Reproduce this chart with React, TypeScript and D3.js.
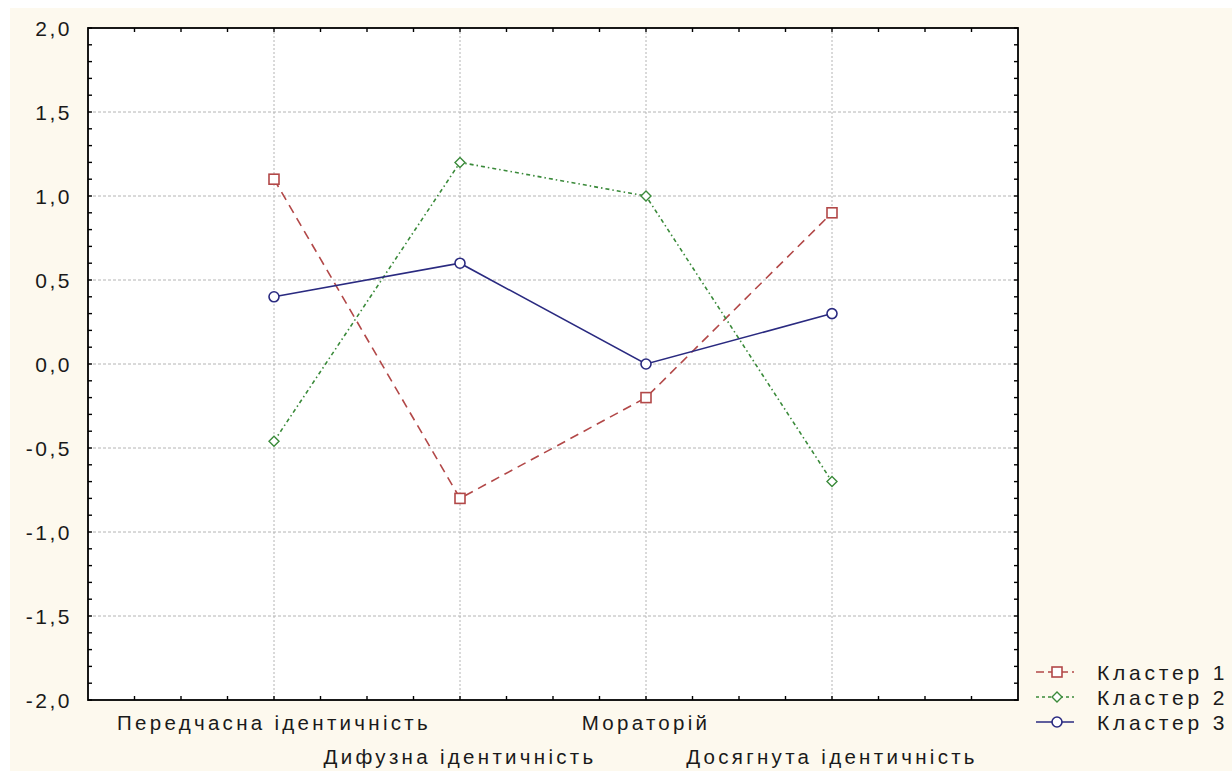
import React from "react";
import * as d3 from "d3";

const categories = ["Передчасна ідентичність", "Дифузна ідентичність", "Мораторій", "Досягнута ідентичність"];
const labelRow = [0, 1, 0, 1];
const cluster1 = [1.1, -0.8, -0.2, 0.9];
const cluster2 = [-0.46, 1.2, 1.0, -0.7];
const cluster3 = [0.4, 0.6, 0.0, 0.3];
const seriesNames = ["Кластер 1", "Кластер 2", "Кластер 3"];
const yTicks = [-2, -1.5, -1, -0.5, 0, 0.5, 1, 1.5, 2];

const W = 1232, H = 771;
const L = 88, R = 1018, T = 28, B = 700;
const FONT = "'Liberation Sans', Arial, sans-serif";

const styles = [
  { color: "#b24848", dash: "9,6", marker: "square" },
  { color: "#3a8a3a", dash: "4,3,1.5,3", marker: "diamond" },
  { color: "#2a2a80", dash: "", marker: "circle" },
];

function Marker({ type, x, y, color }: { type: string; x: number; y: number; color: string }) {
  if (type === "square") return <rect x={x - 5} y={y - 5} width={10} height={10} fill="#fff" stroke={color} strokeWidth={1.6} />;
  if (type === "diamond") return <path d={`M${x},${y - 5}L${x + 5},${y}L${x},${y + 5}L${x - 5},${y}Z`} fill="#fff" stroke={color} strokeWidth={1.4} />;
  return <circle cx={x} cy={y} r={5} fill="#fff" stroke={color} strokeWidth={1.6} />;
}

export default function App() {
  const x = d3.scaleLinear().domain([0, 5]).range([L, R]);
  const y = d3.scaleLinear().domain([-2, 2]).range([B, T]);
  const data = [cluster1, cluster2, cluster3];
  const line = d3.line<number>().x((_, i) => x(i + 1)).y((d) => y(d));
  const xMinor = d3.range(1, 20).map((i) => i * 0.25);
  const yMinor = d3.range(-20, 21).map((i) => i / 10);
  const tl = 4;
  const fmt = (v: number) => d3.format(".1f")(v).replace(".", ",").replace("\u2212", "-");
  return (
    <svg width={W} height={H} style={{ position: "absolute", left: 0, top: 0, background: "#fff" }} fontFamily={FONT}>
      <rect x={10} y={8} width={W - 10} height={H - 8} fill="#fdf9ee" />
      <rect x={L} y={T} width={R - L} height={B - T} fill="#fff" />
      {yTicks.filter((v) => v > -2 && v < 2).map((v) => (
        <line key={"gy" + v} x1={L} x2={R} y1={y(v)} y2={y(v)} stroke="#b4b4b4" strokeWidth={1} strokeDasharray="3,2" />
      ))}
      {categories.map((c, i) => (
        <line key={"gx" + i} x1={x(i + 1)} x2={x(i + 1)} y1={T} y2={B} stroke="#b4b4b4" strokeWidth={1} strokeDasharray="2,2" />
      ))}
      {yMinor.map((v, i) => (
        <g key={"ym" + i}>
          <line x1={L} x2={L + tl} y1={y(v)} y2={y(v)} stroke="#000" strokeWidth={1.4} />
          <line x1={R} x2={R - tl} y1={y(v)} y2={y(v)} stroke="#000" strokeWidth={1.4} />
        </g>
      ))}
      {xMinor.map((v, i) => (
        <g key={"xm" + i}>
          <line x1={x(v)} x2={x(v)} y1={B} y2={B - tl} stroke="#000" strokeWidth={1.4} />
          <line x1={x(v)} x2={x(v)} y1={T} y2={T + tl} stroke="#000" strokeWidth={1.4} />
        </g>
      ))}
      <rect x={L} y={T} width={R - L} height={B - T} fill="none" stroke="#000" strokeWidth={1.8} />
      {yTicks.map((v) => (
        <text key={"yl" + v} x={L - 16} y={y(v)} dy="0.36em" textAnchor="end" fontSize={21} letterSpacing={2.5} fill="#1a1a1a">
          {fmt(v)}
        </text>
      ))}
      {categories.map((c, i) => (
        <text key={"xl" + i} x={x(i + 1)} y={labelRow[i] ? 757 : 723} dy="0.36em" textAnchor="middle" fontSize={20.5} letterSpacing={3.3} fill="#1a1a1a">
          {c}
        </text>
      ))}
      {data.map((s, k) => (
        <g key={"s" + k}>
          <path d={line(s) || ""} fill="none" stroke={styles[k].color} strokeWidth={1.6} strokeDasharray={styles[k].dash} />
          {s.map((v, i) => (
            <Marker key={i} type={styles[k].marker} x={x(i + 1)} y={y(v)} color={styles[k].color} />
          ))}
        </g>
      ))}
      {seriesNames.map((n, k) => {
        const ly = 672 + k * 25;
        return (
          <g key={"lg" + k}>
            <line x1={1036} x2={1074} y1={ly} y2={ly} stroke={styles[k].color} strokeWidth={1.6} strokeDasharray={styles[k].dash === "" ? "" : k === 0 ? "8,4" : "3,3"} />
            <Marker type={styles[k].marker} x={1057} y={ly} color={styles[k].color} />
            <text x={1097} y={ly} dy="0.36em" fontSize={21} letterSpacing={3.8} fill="#1a1a1a">{n}</text>
          </g>
        );
      })}
    </svg>
  );
}
